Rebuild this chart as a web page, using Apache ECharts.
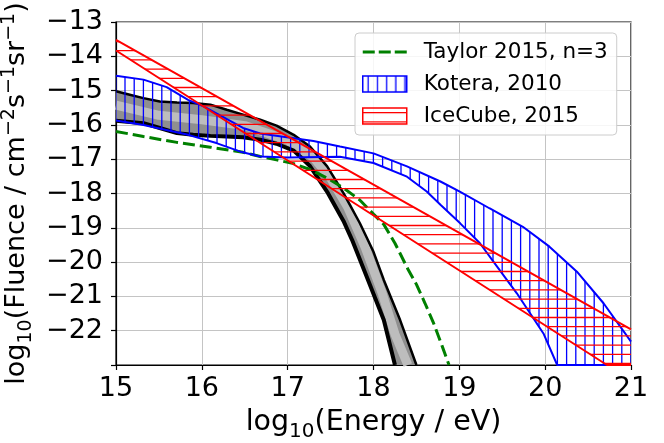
<!DOCTYPE html>
<html>
<head>
<meta charset="utf-8">
<script src="https://cdn.jsdelivr.net/npm/echarts@6/dist/echarts.min.js"></script>
<style>
html, body { margin: 0; padding: 0; background: #fff; }
#chart { width: 664px; height: 443px; }
</style>
</head>
<body>
<div id="chart"></div>
<script>
// log10(E/eV), log10(fluence)
var xTicks = [15, 16, 17, 18, 19, 20, 21];
var yTicks = [-13, -14, -15, -16, -17, -18, -19, -20, -21, -22];

// grey/black model band
var bandUpper = [[15.00,-15.02],[15.16,-15.12],[15.32,-15.22],[15.51,-15.32],[15.71,-15.35],[15.90,-15.36],
    [16.10,-15.41],[16.29,-15.56],[16.48,-15.70],[16.68,-15.85],[16.87,-16.02],[17.07,-16.29],[17.26,-16.63],
    [17.46,-17.21],[17.65,-17.99],[17.84,-18.86],[18.00,-19.70],[18.12,-20.52],[18.31,-21.69],[18.50,-23.00]];
var bandLower = [[15.00,-15.88],[15.32,-15.95],[15.51,-16.09],[15.71,-16.24],[15.90,-16.29],[16.10,-16.32],
    [16.29,-16.34],[16.48,-16.36],[16.68,-16.43],[16.87,-16.55],[17.07,-16.75],[17.26,-17.20],[17.46,-17.95],
    [17.65,-18.80],[17.75,-19.35],[17.92,-20.42],[18.12,-21.69],[18.25,-23.00]];
var bandCore = [[15.00,-15.42],[15.50,-15.72],[16.00,-15.85],[16.50,-16.02],[17.00,-16.45],[17.30,-16.95],
    [17.50,-17.55],[17.70,-18.40],[17.90,-19.55],[18.10,-20.90],[18.25,-22.10],[18.40,-23.00]];

var taylor = [[15.00,-16.19],[15.32,-16.34],[15.71,-16.51],[16.10,-16.65],[16.48,-16.80],[16.68,-16.92],
    [16.87,-17.02],[17.07,-17.13],[17.26,-17.30],[17.46,-17.55],[17.65,-17.84],[17.84,-18.19],[18.00,-18.60],
    [18.12,-18.90],[18.25,-19.45],[18.31,-19.75],[18.40,-20.20],[18.50,-20.65],[18.60,-21.20],[18.70,-21.78],
    [18.80,-22.45],[18.88,-23.00]];

var koteraUpper = [[15.00,-14.57],[15.32,-14.68],[15.59,-14.90],[15.84,-15.27],[16.02,-15.46],[16.48,-16.09],
    [16.68,-16.25],[16.99,-16.36],[17.30,-16.47],[17.61,-16.63],[18.00,-16.83],[18.39,-17.21],[18.78,-17.65],
    [19.00,-17.94],[19.35,-18.43],[19.74,-18.97],[20.05,-19.55],[20.37,-20.28],[20.68,-21.20],[21.00,-22.32]];
var koteraLower = [[15.00,-15.87],[15.32,-16.00],[15.84,-16.29],[16.17,-16.53],[16.45,-16.78],[16.68,-16.92],
    [17.00,-16.95],[17.61,-16.93],[18.00,-17.11],[18.39,-17.51],[18.62,-17.94],[18.78,-18.33],[19.01,-18.87],
    [19.24,-19.45],[19.44,-20.13],[19.67,-20.91],[19.98,-22.08],[20.14,-23.00],[21.00,-23.00]];

var icecubeUpper = [[15.00,-13.52],[21.00,-21.96]];
var icecubeLower = [[15.00,-13.83],[20.72,-23.00],[21.00,-23.00]];

var blue = '#0000ff', red = '#ff0000', green = '#008000';

// matplotlib-like hatch as a repeating canvas
function hatch(color, vertical) {
    var c = document.createElement('canvas');
    c.width = 46;
    c.height = 46;
    var ctx = c.getContext('2d');
    ctx.strokeStyle = color;
    ctx.lineWidth = 1.3;
    for (var k = 0; k < 5; k++) {
        var p = (vertical ? 5.4 : 4.7) + k * 9.2;
        ctx.beginPath();
        if (vertical) { ctx.moveTo(p, 0); ctx.lineTo(p, 46); }
        else { ctx.moveTo(0, p); ctx.lineTo(46, p); }
        ctx.stroke();
    }
    return { image: c, repeat: 'repeat' };
}
var blueHatch = hatch(blue, true);
var redHatch = hatch(red, false);

function fillBand(name, upper, lower, fill, z) {
    return {
        name: name,
        type: 'custom',
        z: z,
        clip: true,
        silent: true,
        data: [[15, -13]],
        renderItem: function (params, api) {
            var pts = upper.map(function (d) { return api.coord(d); });
            for (var i = lower.length - 1; i >= 0; i--) {
                pts.push(api.coord(lower[i]));
            }
            return { type: 'polygon', shape: { points: pts }, style: { fill: fill, stroke: null } };
        }
    };
}

function edge(data, color, width, z) {
    return {
        type: 'line',
        data: data,
        z: z,
        symbol: 'none',
        silent: true,
        lineStyle: { color: color, width: width }
    };
}

var fmtMinus = function (v) {
    if (v === -23) return '';
    return String(v).replace('-', '\u2212');
};

// three dashes, the two bare moves only stretch the icon box to 44x16
var dashIcon = 'path://M0,0M44,16M0,6.5h12v3h-12zM16,6.5h12v3h-12zM32,6.5h12v3h-12z';

var chart = echarts.init(document.getElementById('chart'));
chart.setOption({
    animation: false,
    backgroundColor: '#fff',
    textStyle: { fontFamily: 'DejaVu Sans' },
    grid: {
        left: 116, right: 33, top: 22, bottom: 78,
        outerBoundsMode: 'none',
        containLabel: false,
        show: true, borderColor: '#000', borderWidth: 1.2
    },
    legend: {
        orient: 'vertical',
        left: 355,
        top: 33,
        padding: [8, 9, 8, 7],
        itemWidth: 44,
        itemHeight: 16,
        itemGap: 10,
        backgroundColor: 'rgba(255,255,255,0.85)',
        borderColor: '#cccccc',
        borderWidth: 1,
        borderRadius: 4,
        selectedMode: false,
        textStyle: { fontSize: 21.5, color: '#000', lineHeight: 21, padding: [0, 0, 0, 12] },
        data: [
            { name: 'Taylor 2015, n=3', icon: dashIcon, itemStyle: { color: green, borderWidth: 0 } },
            { name: 'Kotera, 2010', icon: 'rect', itemStyle: { color: blueHatch, borderColor: blue, borderWidth: 1.5 } },
            { name: 'IceCube, 2015', icon: 'rect', itemStyle: { color: redHatch, borderColor: red, borderWidth: 1.5 } }
        ]
    },
    xAxis: {
        type: 'value',
        min: 15, max: 21, interval: 1,
        name: '{n|log}{s|10}{n|(Energy / eV)}',
        nameLocation: 'middle',
        nameGap: 39,
        nameTextStyle: {
            rich: {
                n: { fontSize: 28.5, lineHeight: 38, color: '#000', verticalAlign: 'middle' },
                s: { fontSize: 20, lineHeight: 38, color: '#000', verticalAlign: 'bottom' }
            }
        },
        axisLine: { show: true, lineStyle: { color: '#000', width: 1.2 } },
        axisTick: { show: true, length: 5, lineStyle: { color: '#000', width: 1.2 } },
        axisLabel: { fontSize: 27, color: '#000', margin: 10 },
        splitLine: { show: true, lineStyle: { color: '#c4c4c4', width: 1 } }
    },
    yAxis: {
        type: 'value',
        min: -23, max: -13, interval: 1,
        name: '{n|log}{s|10}{n|(Fluence / cm}{p|\u22122}{n|s}{p|\u22121}{n|sr}{p|\u22121}{n|)}',
        nameLocation: 'middle',
        nameRotate: 90,
        nameGap: 72,
        nameTextStyle: {
            rich: {
                n: { fontSize: 27, lineHeight: 36, color: '#000', verticalAlign: 'middle' },
                s: { fontSize: 19, lineHeight: 36, color: '#000', verticalAlign: 'bottom' },
                p: { fontSize: 19, lineHeight: 36, color: '#000', verticalAlign: 'top' }
            }
        },
        axisLine: { show: true, lineStyle: { color: '#000', width: 1.2 } },
        axisTick: { show: true, length: 5, lineStyle: { color: '#000', width: 1.2 } },
        axisLabel: { fontSize: 27, color: '#000', margin: 13, formatter: fmtMinus },
        splitLine: { show: true, lineStyle: { color: '#c4c4c4', width: 1 } }
    },
    series: [
        fillBand('model band', bandUpper, bandLower, '#8f8f8f', 2),
        edge(bandCore, '#bdbdbd', 9, 3),
        edge(bandUpper, '#000', 2.5, 3),
        edge(bandLower, '#000', 4, 3),
        {
            name: 'Taylor 2015, n=3',
            type: 'line',
            data: taylor,
            z: 4,
            symbol: 'none',
            lineStyle: { color: green, width: 3, type: [12, 5] },
            itemStyle: { color: green }
        },
        fillBand('Kotera, 2010', koteraUpper, koteraLower, blueHatch, 5),
        edge(koteraUpper, blue, 2, 6),
        edge(koteraLower, blue, 2, 6),
        fillBand('IceCube, 2015', icecubeUpper, icecubeLower, redHatch, 7),
        edge(icecubeUpper, red, 2, 8),
        edge(icecubeLower, red, 2, 8)
    ]
});
</script>
</body>
</html>
